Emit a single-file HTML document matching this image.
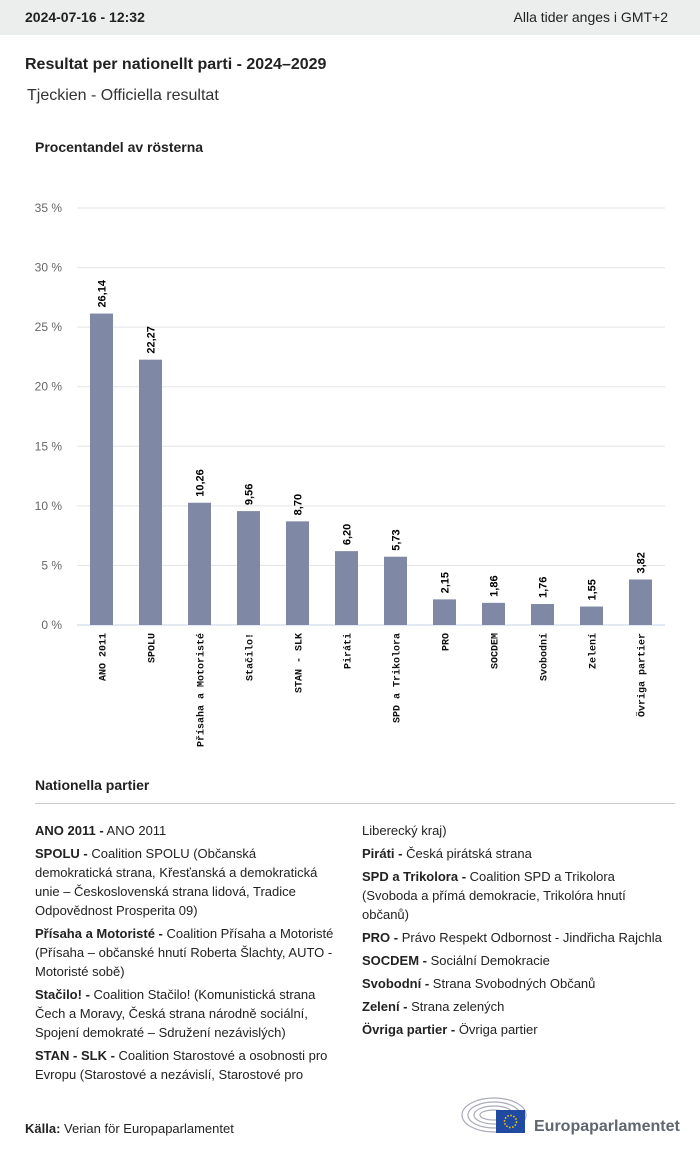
<!DOCTYPE html>
<html><head><meta charset="utf-8">
<style>
body{margin:0;width:700px;height:1154px;background:#fff;font-family:"Liberation Sans",sans-serif;color:#222;position:relative;overflow:hidden}
.top{position:absolute;left:0;top:0;width:700px;height:35px;background:#eceded;font-size:14px}
.abs{position:absolute}
.leg{position:absolute;font-size:13px;line-height:19px;color:#222;width:300px}
.leg p{margin:0 0 4px 0}
.leg b{font-weight:bold}
</style></head><body>
<div class="top">
<span class="abs" style="left:25px;top:9px;font-weight:bold">2024-07-16 - 12:32</span>
<span class="abs" style="right:32px;top:9px">Alla tider anges i GMT+2</span>
</div>
<div class="abs" style="left:25px;top:56px;font-size:16px;font-weight:bold">Resultat per nationellt parti - 2024–2029</div>
<div class="abs" style="left:27px;top:87px;font-size:16px;color:#333">Tjeckien - Officiella resultat</div>
<div class="abs" style="left:35px;top:139px;font-size:14px;font-weight:bold">Procentandel av rösterna</div>
<svg class="abs" style="left:0;top:0" width="700" height="770" id="chart"></svg>
<div class="abs" style="left:35px;top:777px;font-size:14px;font-weight:bold">Nationella partier</div>
<div class="abs" style="left:35px;top:803px;width:640px;height:1px;background:#ccc"></div>
<div class="leg" style="left:35px;top:821px">
<p><b>ANO 2011 -</b> ANO 2011</p>
<p><b>SPOLU -</b> Coalition SPOLU (Občanská demokratická strana, Křesťanská a demokratická unie – Československá strana lidová, Tradice Odpovědnost Prosperita 09)</p>
<p><b>Přísaha a Motoristé -</b> Coalition Přísaha a Motoristé (Přísaha – občanské hnutí Roberta Šlachty, AUTO - Motoristé sobě)</p>
<p><b>Stačilo! -</b> Coalition Stačilo! (Komunistická strana Čech a Moravy, Česká strana národně sociální, Spojení demokraté – Sdružení nezávislých)</p>
<p><b>STAN - SLK -</b> Coalition Starostové a osobnosti pro Evropu (Starostové a nezávislí, Starostové pro</p>
</div>
<div class="leg" style="left:362px;top:821px">
<p>Liberecký kraj)</p>
<p><b>Piráti -</b> Česká pirátská strana</p>
<p><b>SPD a Trikolora -</b> Coalition SPD a Trikolora (Svoboda a přímá demokracie, Trikolóra hnutí občanů)</p>
<p><b>PRO -</b> Právo Respekt Odbornost - Jindřicha Rajchla</p>
<p><b>SOCDEM -</b> Sociální Demokracie</p>
<p><b>Svobodní -</b> Strana Svobodných Občanů</p>
<p><b>Zelení -</b> Strana zelených</p>
<p><b>Övriga partier -</b> Övriga partier</p>
</div>
<div class="abs" style="left:25px;top:1121px;font-size:13px"><b>Källa:</b> Verian för Europaparlamentet</div>
<svg class="abs" style="left:460px;top:1095px" width="230" height="42">
<g fill="none" stroke="#aab" stroke-width="1.2">
<ellipse cx="34" cy="20" rx="32" ry="17"/><ellipse cx="34" cy="20" rx="26" ry="13"/><ellipse cx="34" cy="20" rx="20" ry="9"/><ellipse cx="34" cy="20" rx="14" ry="5"/></g>
<rect x="36" y="15" width="29" height="23" fill="#1f4aa0"/>
<circle cx="50.5" cy="26.5" r="6" fill="none" stroke="#fc0" stroke-width="1.5" stroke-dasharray="1.5 1.6"/>
<text x="74" y="36" font-size="16" font-weight="bold" fill="#5f6670" font-family="Liberation Sans, sans-serif">Europaparlamentet</text>
</svg>
<script>
const categories=["ANO 2011","SPOLU","Přísaha a Motoristé","Stačilo!","STAN - SLK","Piráti","SPD a Trikolora","PRO","SOCDEM","Svobodní","Zelení","Övriga partier"];
const values=[26.14,22.27,10.26,9.56,8.70,6.20,5.73,2.15,1.86,1.76,1.55,3.82];
const valueLabels=["26,14","22,27","10,26","9,56","8,70","6,20","5,73","2,15","1,86","1,76","1,55","3,82"];
const ticks=[0,5,10,15,20,25,30,35];
const tickLabels=["0 %","5 %","10 %","15 %","20 %","25 %","30 %","35 %"];
const svg=document.getElementById('chart');const NS='http://www.w3.org/2000/svg';
const x0=77,x1=665,yB=625,yT=208,yMax=35;
const y=v=>yB-(v/yMax)*(yB-yT);
const band=(x1-x0)/categories.length;
const xc=i=>x0+band*(i+0.5);
function mk(t,a){const e=document.createElementNS(NS,t);for(const k in a)e.setAttribute(k,a[k]);svg.appendChild(e);return e;}
ticks.forEach((t,i)=>{
 const l=mk('line',{x1:x0,x2:x1,y1:y(t),y2:y(t),stroke:t===0?'#c5d3e6':'#e3e3e3','stroke-width':1});
 
 
 const tx=mk('text',{x:62,y:y(t)+4,'text-anchor':'end','font-size':12,fill:'#666','font-family':'Liberation Sans, sans-serif'});
 tx.textContent=tickLabels[i];
 
 
});
categories.forEach((c,i)=>{
 const bw=23;
 const r=mk('rect',{x:xc(i)-bw/2,y:y(values[i]),width:bw,height:yB-y(values[i]),fill:'#7f88a4'});
 
 
 const vt=mk('text',{transform:`translate(${xc(i)+4},${y(values[i])-6}) rotate(-90)`,'font-size':11,'font-weight':'bold',fill:'#000','font-family':'Liberation Sans, sans-serif'});
 vt.textContent=valueLabels[i];
 
 
 const ct=mk('text',{transform:`translate(${xc(i)+4},${yB+8}) rotate(-90)`,'text-anchor':'end','font-size':10,'font-weight':'bold',fill:'#111','font-family':'Liberation Mono, DejaVu Sans Mono, monospace'});
 ct.textContent=c;
 
 
});
</script>
</body></html>
